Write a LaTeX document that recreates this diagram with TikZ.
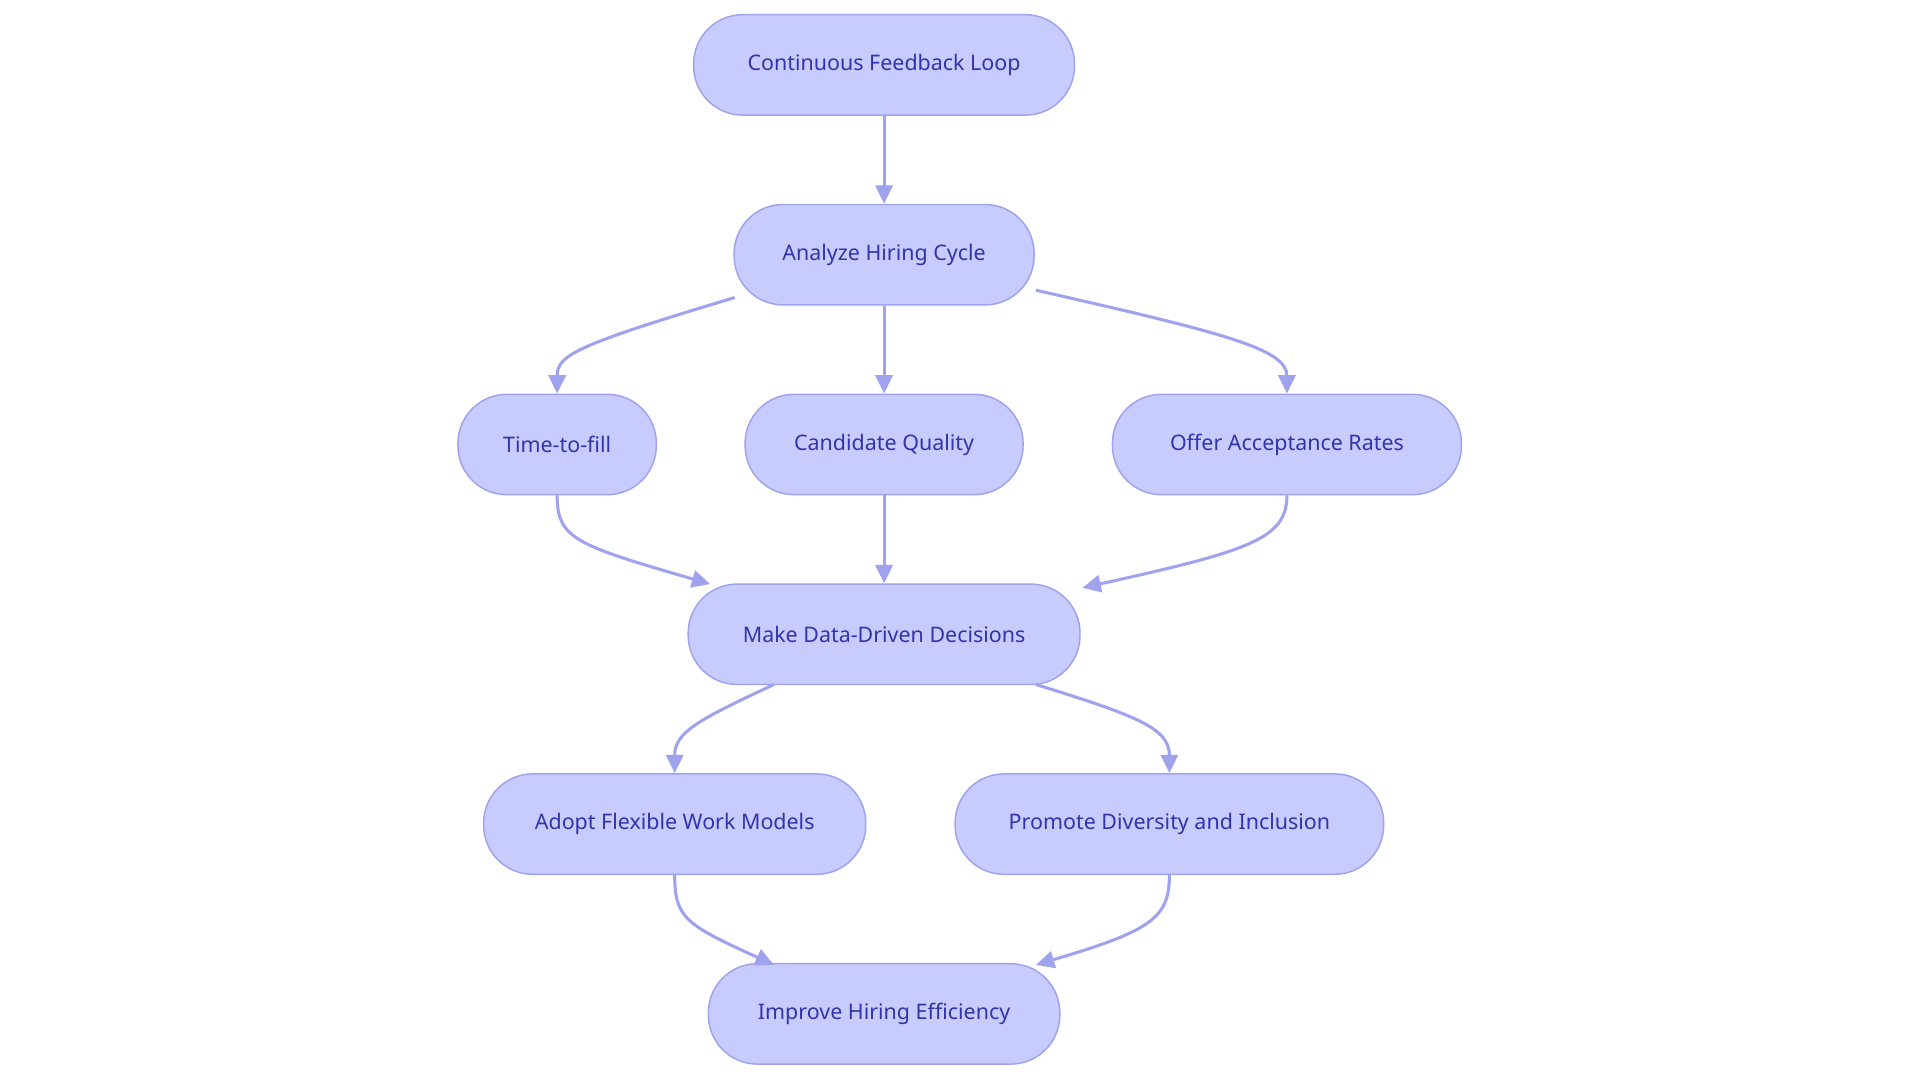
\documentclass[tikz,border=0pt]{standalone}
\usepackage{fontspec}
\setmainfont{Noto Sans}
\usetikzlibrary{arrows.meta,calc}
\definecolor{nfill}{HTML}{C8CBFE}
\definecolor{nline}{HTML}{9FA2EC}
\definecolor{ntext}{HTML}{3333AA}
\begin{document}
\begin{tikzpicture}[x=1pt,y=-1pt,
  box/.style={draw=nline,fill=nfill,line width=1.2pt,rounded corners=40pt,minimum height=82pt,inner sep=0pt,text=ntext,font=\fontsize{17.5}{20}\selectfont},
  edge/.style={draw=nline,line width=2.5pt,-{Triangle[length=15pt,width=14pt]}}]
\useasboundingbox (0,0) rectangle (1568,884);
\node[box,minimum width=311pt] (C) at (722,53) {Continuous Feedback Loop};
\node[box,minimum width=245pt] (A) at (722,208) {Analyze Hiring Cycle};
\node[box,minimum width=162pt] (T) at (455,363) {Time-to-fill};
\node[box,minimum width=227pt] (Q) at (722,363) {Candidate Quality};
\node[box,minimum width=285pt] (O) at (1051,363) {Offer Acceptance Rates};
\node[box,minimum width=320pt] (M) at (722,518) {Make Data-Driven Decisions};
\node[box,minimum width=312pt] (F) at (551,673) {Adopt Flexible Work Models};
\node[box,minimum width=350pt] (P) at (955,673) {Promote Diversity and Inclusion};
\node[box,minimum width=287pt] (I) at (722,828) {Improve Hiring Efficiency};
\coordinate (a1) at (600,243);
\coordinate (a2) at (846,237);
\coordinate (m1) at (580,477);
\coordinate (m2) at (884,480);
\coordinate (m3) at (632,559);
\coordinate (m4) at (846,559);
\coordinate (i1) at (632,788);
\coordinate (i2) at (846,788);
\draw[edge] (C) -- (A);
\draw[edge] (A) -- (Q);
\draw[edge] (a1) .. controls (470,282) and (455,290) .. (T.north);
\draw[edge] (a2) .. controls (1000,272) and (1051,285) .. (O.north);
\draw[edge] (Q) -- (M);
\draw[edge] (T.south) .. controls (455,440) and (470,445) .. (m1);
\draw[edge] (O.south) .. controls (1051,440) and (1020,450) .. (m2);
\draw[edge] (m3) .. controls (570,588) and (551,598) .. (F.north);
\draw[edge] (m4) .. controls (930,585) and (955,595) .. (P.north);
\draw[edge] (F.south) .. controls (551,750) and (560,755) .. (i1);
\draw[edge] (P.south) .. controls (955,750) and (940,760) .. (i2);
\end{tikzpicture}
\end{document}
